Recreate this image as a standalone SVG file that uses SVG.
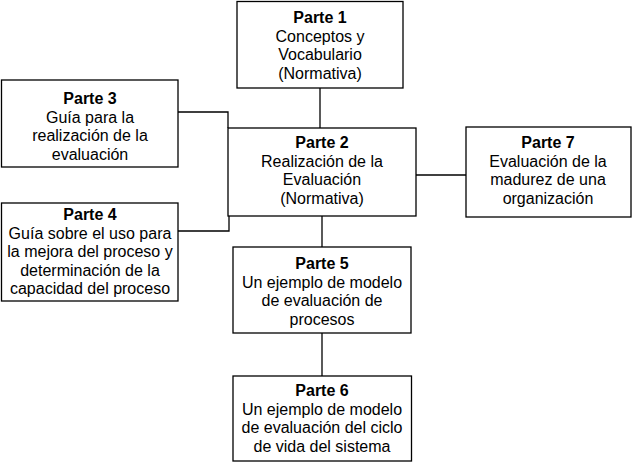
<svg xmlns="http://www.w3.org/2000/svg" width="633" height="463" viewBox="0 0 633 463">
<style>
.box{fill:#fff;stroke:#000;stroke-width:1.3}
.con{fill:none;stroke:#000;stroke-width:1.3}
text{font-family:"Liberation Sans",Arial,sans-serif;font-size:16px;fill:#000;text-anchor:middle}
.b{font-weight:bold}
</style>
<rect width="633" height="463" fill="#fff"/>
<g id="connectors">
<line class="con" x1="320" y1="88" x2="320" y2="128"/>
<polyline class="con" points="178,112 228,112 228,128"/>
<polyline class="con" points="229,216 229,231 178,231"/>
<line class="con" x1="416" y1="175" x2="466" y2="175"/>
<line class="con" x1="322" y1="216" x2="322" y2="247"/>
<line class="con" x1="322" y1="333" x2="322" y2="376"/>
</g>
<g id="parte1">
<rect class="box" x="237" y="1.5" width="166" height="86.5"/>
<text x="320" y="23" class="b">Parte 1</text>
<text x="320" y="41.5">Conceptos y</text>
<text x="320" y="60">Vocabulario</text>
<text x="320" y="78.5">(Normativa)</text>
</g>
<g id="parte3">
<rect class="box" x="1.5" y="80" width="176.5" height="87"/>
<text x="90" y="104" class="b">Parte 3</text>
<text x="90" y="122.5">Guía para la</text>
<text x="90" y="141">realización de la</text>
<text x="90" y="159.5">evaluación</text>
</g>
<g id="parte2">
<rect class="box" x="228" y="128" width="188" height="88"/>
<text x="322" y="148" class="b">Parte 2</text>
<text x="322" y="166.5">Realización de la</text>
<text x="322" y="185">Evaluación</text>
<text x="322" y="203.5">(Normativa)</text>
</g>
<g id="parte7">
<rect class="box" x="466" y="127" width="165" height="90"/>
<text x="548" y="148" class="b">Parte 7</text>
<text x="548" y="166.5">Evaluación de la</text>
<text x="548" y="185">madurez de una</text>
<text x="548" y="203.5">organización</text>
</g>
<g id="parte4">
<rect class="box" x="1.5" y="203" width="176.5" height="98"/>
<text x="90" y="220" class="b">Parte 4</text>
<text x="90" y="238.5">Guía sobre el uso para</text>
<text x="90" y="257">la mejora del proceso y</text>
<text x="90" y="275.5">determinación de la</text>
<text x="90" y="294">capacidad del proceso</text>
</g>
<g id="parte5">
<rect class="box" x="233" y="247" width="178" height="86"/>
<text x="322" y="269" class="b">Parte 5</text>
<text x="322" y="287.5">Un ejemplo de modelo</text>
<text x="322" y="306">de evaluación de</text>
<text x="322" y="324.5">procesos</text>
</g>
<g id="parte6">
<rect class="box" x="233" y="376" width="178.5" height="85"/>
<text x="322" y="396" class="b">Parte 6</text>
<text x="322" y="414.5">Un ejemplo de modelo</text>
<text x="322" y="433">de evaluación del ciclo</text>
<text x="322" y="451.5">de vida del sistema</text>
</g>
</svg>
